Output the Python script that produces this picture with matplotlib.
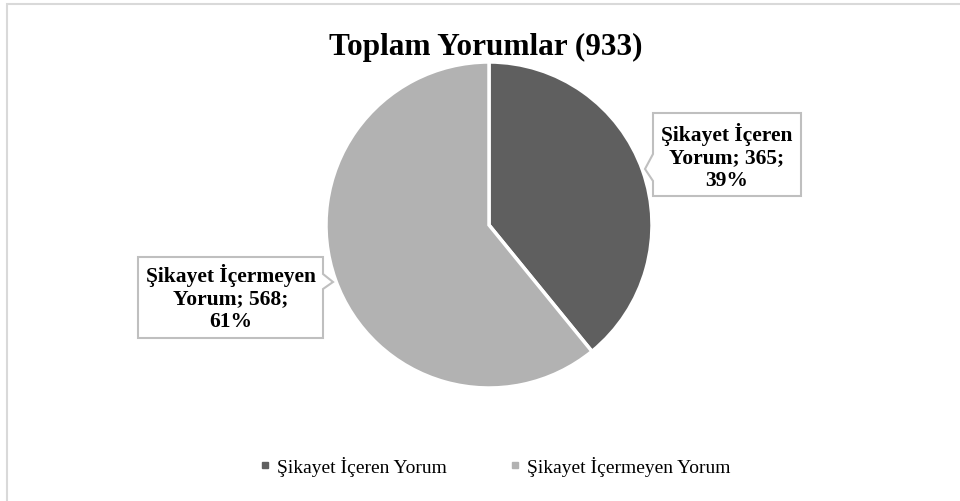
import matplotlib.pyplot as plt
from matplotlib.patches import Polygon, Rectangle
from matplotlib.lines import Line2D

plt.rcParams['font.family'] = ['Liberation Serif', 'DejaVu Serif']

# data
categories = ['Şikayet İçeren Yorum', 'Şikayet İçermeyen Yorum']
values = [365, 568]
colors = ['#5f5f5f', '#b2b2b2']
total = sum(values)

W, H = 960, 502
fig = plt.figure(figsize=(W / 100, H / 100), dpi=100)
ax = fig.add_axes([0, 0, 1, 1])

# pie, working in pixel-like coordinates (y up)
cx, cy, r = 489, H - 226, 163
ax.pie(values, colors=colors, startangle=90, counterclock=False,
       center=(cx, cy), radius=r, frame=True,
       wedgeprops=dict(edgecolor='white', linewidth=2.5))
ax.set_xlim(0, W)
ax.set_ylim(0, H)
ax.set_aspect('equal')
ax.axis('off')

# outer chart border
fig.patches.append(Rectangle((7 / W, -0.02), 1.05, 1 - 5 / H + 0.02,
                             transform=fig.transFigure, fill=False,
                             edgecolor='#d9d9d9', linewidth=1.5))


def label_text(name, v):
    words = name.split()
    pct = round(100 * v / total)
    return f"{' '.join(words[:2])}\n{words[2]}; {v};\n{pct}%"


def callout(x0, x1, ytop, ybot, notch, side):
    # box outline with small pointer, y given in image pixels (down)
    y0, y1 = H - ybot, H - ytop
    na, tip, nb = notch
    if side == 'left':
        pts = [(x0, y1), (x1, y1), (x1, y0), (x0, y0),
               (x0, H - nb), (tip[0], H - tip[1]), (x0, H - na)]
    else:
        pts = [(x0, y1), (x1, y1), (x1, H - na), (tip[0], H - tip[1]),
               (x1, H - nb), (x1, y0), (x0, y0)]
    ax.add_patch(Polygon(pts, closed=True, facecolor='white',
                         edgecolor='#bfbfbf', linewidth=1.5, zorder=3))


# label for first slice (right side)
callout(653, 801, 114, 197, (155, (645, 170), 182), 'left')
ax.text((653 + 801) / 2, H - 157, label_text(categories[0], values[0]),
        ha='center', va='center', fontsize=15.5, fontweight='bold',
        linespacing=1.17, zorder=4)

# label for second slice (left side)
callout(138, 323, 258, 339, (275, (333, 283), 290), 'right')
ax.text((138 + 323) / 2, H - 298, label_text(categories[1], values[1]),
        ha='center', va='center', fontsize=15.5, fontweight='bold',
        linespacing=1.17, zorder=4)

# title
ax.text(486, H - 47, f'Toplam Yorumlar ({total})', ha='center', va='center',
        fontsize=22.5, fontweight='bold')

# legend
handles = [Line2D([], [], marker='s', linestyle='none', markersize=5,
                  markerfacecolor=c, markeredgecolor=c) for c in colors]
fig.legend(handles, categories, loc='center', ncol=2, frameon=False,
           bbox_to_anchor=(493 / W, 1 - 467 / H), fontsize=14,
           handletextpad=0.1, columnspacing=3.0, handlelength=1.0)

fig.savefig('out.png', dpi=100)
